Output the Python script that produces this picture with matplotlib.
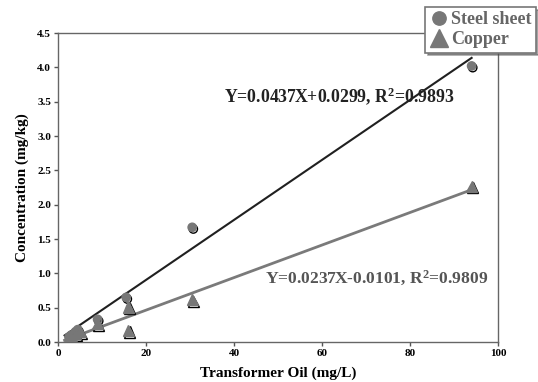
import matplotlib
matplotlib.use("Agg")
import matplotlib.pyplot as plt
import matplotlib.patheffects as pe
import numpy as np

steel_x = [2.5, 3, 4, 4.5, 9, 15.5, 30.5, 94]
steel_y = [0.07, 0.10, 0.15, 0.18, 0.33, 0.65, 1.67, 4.02]
copper_x = [2.5, 3, 4, 5, 9, 16, 16, 30.5, 94]
copper_y = [0.05, 0.08, 0.12, 0.15, 0.27, 0.51, 0.17, 0.62, 2.27]
steel_fit = (0.0437, 0.0299)
copper_fit = (0.0237, -0.0101)
fit_range = [1.5, 94]
xticks = [0, 20, 40, 60, 80, 100]
yticks = [0.0, 0.5, 1.0, 1.5, 2.0, 2.5, 3.0, 3.5, 4.0, 4.5]

plt.rcParams['font.family'] = ['Liberation Serif', 'DejaVu Serif']
plt.rcParams['font.weight'] = 'bold'
plt.rcParams['mathtext.default'] = 'regular'

fig = plt.figure(figsize=(5.38, 3.82), dpi=100)
ax = fig.add_axes([0.1078, 0.1047, 0.8179, 0.8089])

xs = np.array(fit_range)
ax.plot(xs, steel_fit[0] * xs + steel_fit[1], color='#202020', lw=1.5, zorder=2)
ax.plot(xs, copper_fit[0] * xs + copper_fit[1], color='#7a7a7a', lw=2.0, zorder=2)

shadow = [pe.SimpleLineShadow(offset=(0.8, -1.2), shadow_color='black', alpha=1.0), pe.Normal()]
ax.plot(steel_x, steel_y, 'o', ms=6, color='#777777', mec='#777777', ls='none',
        label='Steel sheet', zorder=3, path_effects=shadow)
ax.plot(copper_x, copper_y, '^', ms=8, color='#777777', mec='#777777', ls='none',
        label='Copper', zorder=3, path_effects=shadow)

ax.set_xlim(0, 100)
ax.set_ylim(0, 4.5)
ax.set_xticks(xticks)
ax.set_yticks(yticks)
ax.set_yticklabels([f"{v:.1f}" for v in yticks])
ax.tick_params(direction='out', length=3, width=1, labelsize=8, color='#555555', pad=2)
for s in ax.spines.values():
    s.set_color('#666666')
    s.set_linewidth(1)

ax.set_xlabel('Transformer Oil (mg/L)', fontsize=11, fontweight='bold', labelpad=6)
ax.set_ylabel('Concentration (mg/kg)', fontsize=11, fontweight='bold', labelpad=6)

ax.text(0.378, 0.796, 'Y=0.0437X+0.0299, R$^2$=0.9893', transform=ax.transAxes,
        fontsize=12.8, fontweight='bold', color='#222222', ha='left', va='center')
ax.text(0.47, 0.205, 'Y=0.0237X-0.0101, R$^2$=0.9809', transform=ax.transAxes,
        fontsize=12.6, fontweight='bold', color='#555555', ha='left', va='center')

leg = fig.legend(loc='upper right', bbox_to_anchor=(0.997, 0.982), fontsize=13,
                 frameon=True, fancybox=False, shadow=True, handletextpad=0.2,
                 borderpad=0.25, labelspacing=0.15, handlelength=1.0, borderaxespad=0,
                 markerscale=1.6)
leg.get_frame().set_edgecolor('#777777')
leg.get_frame().set_linewidth(1.2)
for h in leg.legend_handles:
    h.set_path_effects([])
for t in leg.get_texts():
    t.set_color('#666666')
    t.set_fontweight('bold')

fig.savefig('out.png', dpi=100)
